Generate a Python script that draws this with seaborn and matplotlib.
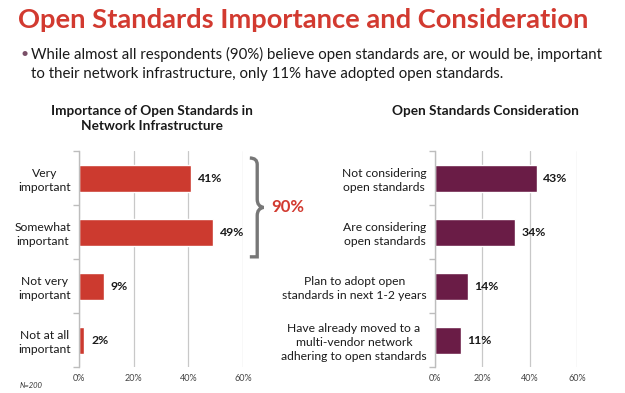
import matplotlib
matplotlib.use("Agg")
import matplotlib.pyplot as plt
from matplotlib.path import Path
from matplotlib.patches import PathPatch
from matplotlib.ticker import FixedLocator, PercentFormatter
import seaborn as sns
import pandas as pd

# data
importance_labels = ["Very\nimportant", "Somewhat\nimportant", "Not very\nimportant", "Not at all\nimportant"]
importance_values = [41, 49, 9, 2]
consider_labels = ["Not considering\nopen standards", "Are considering\nopen standards",
                   "Plan to adopt open\nstandards in next 1-2 years",
                   "Have already moved to a\nmulti-vendor network\nadhering to open standards"]
consider_values = [43, 34, 14, 11]
x_ticks = [0, 20, 40, 60]

RED = "#cc3a2f"
PURPLE = "#6a1c46"
TITLE_RED = "#d23a30"

sns.set_theme(style="white")
plt.rcParams["font.family"] = ["Lato", "DejaVu Sans"]

fig = plt.figure(figsize=(6.25, 3.93), dpi=100)
ax1 = fig.add_axes([79 / 625, 1 - 367 / 393, 164 / 625, 216 / 393])
ax2 = fig.add_axes([435 / 625, 1 - 367 / 393, 142 / 625, 216 / 393])


def draw_panel(ax, labels, values, color, title, title_x):
    df = pd.DataFrame({"label": labels, "value": values})
    sns.barplot(data=df, x="value", y="label", orient="h", color=color,
                width=0.5, saturation=1, ax=ax)
    ax.set_xlim(0, 60)
    ax.set_ylim(3.5, -0.5)
    ax.xaxis.set_major_locator(FixedLocator(x_ticks))
    ax.xaxis.set_major_formatter(PercentFormatter(decimals=0))
    ax.grid(axis="x", color="#c8c8c8", linewidth=0.9)
    ax.set_axisbelow(True)
    for s in ["top", "right", "bottom"]:
        ax.spines[s].set_visible(False)
    ax.spines["left"].set_color("#bdbdbd")
    ax.spines["left"].set_linewidth(1.0)
    ax.tick_params(axis="x", length=0, labelsize=6.5, labelcolor="#444444", pad=5)
    ax.tick_params(axis="y", length=0, labelsize=8.7, labelcolor="#1a1a1a", pad=6)
    ax.yaxis.set_minor_locator(FixedLocator([-0.5, 0.5, 1.5, 2.5, 3.5]))
    ax.tick_params(axis="y", which="minor", left=True, length=4, color="#bdbdbd", width=1.0)
    ax.set_xlabel("")
    ax.set_ylabel("")
    for lbl in ax.get_yticklabels():
        lbl.set_horizontalalignment("right")
        lbl.set_multialignment("center")
        lbl.set_linespacing(1.3)
    for i, v in enumerate(values):
        ax.text(v + 2.5, i, f"{v}%", va="center", ha="left", fontsize=8.8,
                fontweight="bold", color="#1a1a1a")
    fig.text(title_x / 625, 1 - 105 / 393, title, fontsize=9.8, fontweight="bold",
             color="#1a1a1a", ha="center", va="top", linespacing=1.3)


draw_panel(ax1, importance_labels, importance_values, RED,
           "Importance of Open Standards in\nNetwork Infrastructure", 152)
draw_panel(ax2, consider_labels, consider_values, PURPLE,
           "Open Standards Consideration", 485)

# curly bracket for the top two bars
top, bot = -0.37, 1.46
mid = (top + bot) / 2
x0, x1, xt = 62.5, 65.2, 67.5
verts = [(x0, top), (x1, top), (x1, top + 0.12), (x1, top + 0.25),
         (x1, mid - 0.15), (x1, mid - 0.02), (xt, mid),
         (x1, mid + 0.02), (x1, mid + 0.15),
         (x1, bot - 0.25), (x1, bot - 0.12), (x1, bot), (x0, bot)]
codes = [Path.MOVETO, Path.CURVE3, Path.CURVE3, Path.LINETO,
         Path.LINETO, Path.CURVE3, Path.CURVE3,
         Path.CURVE3, Path.CURVE3,
         Path.LINETO, Path.CURVE3, Path.CURVE3, Path.LINETO]
brace = PathPatch(Path(verts, codes), facecolor="none", edgecolor="#777777",
                  linewidth=2.4, clip_on=False)
ax1.add_patch(brace)
ax1.text(70.5, mid, "90%", color=TITLE_RED, fontsize=12, fontweight="bold",
         va="center", ha="left", clip_on=False)

# headings
fig.text(18 / 625, 1 - 20 / 393, "Open Standards Importance and Consideration",
         color=TITLE_RED, fontsize=19.7, fontweight="bold", va="center", ha="left")
fig.text(21 / 625, 1 - 54 / 393, "\u2022", color="#7a5068", fontsize=10, va="center", ha="left")
fig.text(31 / 625, 1 - 54 / 393,
         "While almost all respondents (90%) believe open standards are, or would be, important",
         color="#1a1a1a", fontsize=10.8, va="center", ha="left")
fig.text(31 / 625, 1 - 74 / 393,
         "to their network infrastructure, only 11% have adopted open standards.",
         color="#1a1a1a", fontsize=10.8, va="center", ha="left")
fig.text(20 / 625, 1 - 386 / 393, "N=200", fontsize=5.5, style="italic",
         color="#333333", va="center", ha="left")

fig.savefig("out.png", dpi=100, facecolor="white")
